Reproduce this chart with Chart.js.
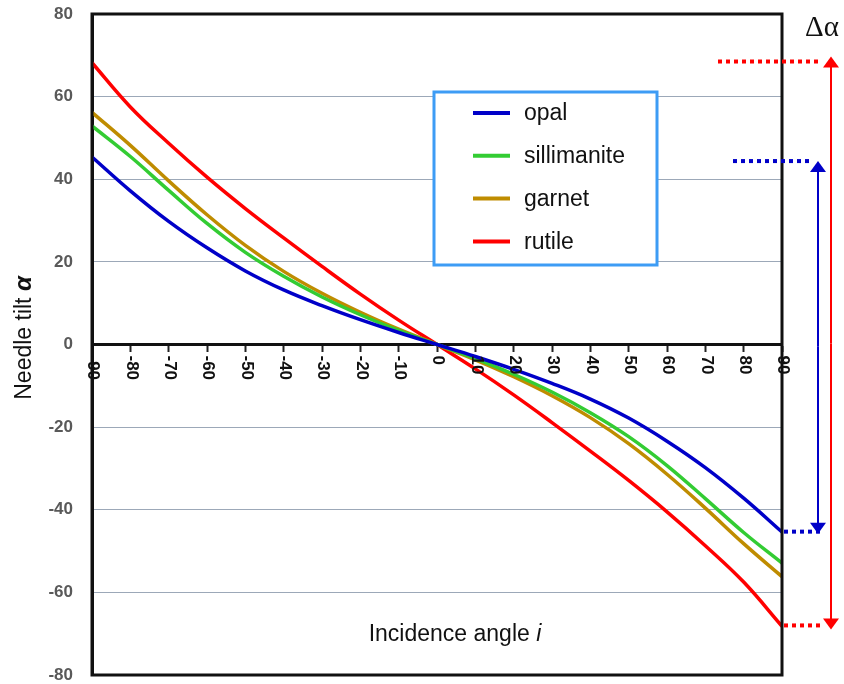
<!DOCTYPE html>
<html>
<head>
<meta charset="utf-8">
<script src="https://cdn.jsdelivr.net/npm/chart.js@4.4.1/dist/chart.umd.min.js"></script>
<style>
html, body { margin: 0; padding: 0; background: #fff; }
</style>
</head>
<body>
<canvas id="tiltChart" width="844" height="684"></canvas>
<script>
// incidence angle i (deg)
const angles = [-90, -80, -70, -60, -50, -40, -30, -20, -10, 0, 10, 20, 30, 40, 50, 60, 70, 80, 90];

// needle tilt alpha (deg)
const opal = [45.4, 37.2, 29.8, 23.4, 17.8, 13.2, 9.4, 6.0, 2.9, 0, -2.9, -6.0, -9.4, -13.2, -17.8, -23.4, -29.8, -37.2, -45.4];
const sillimanite = [52.9, 45.5, 37.3, 29.3, 22.3, 16.5, 11.5, 7.2, 3.4, 0, -3.4, -7.2, -11.5, -16.5, -22.3, -29.3, -37.3, -45.5, -52.9];
const garnet = [56.2, 48.2, 39.6, 31.4, 24.0, 17.7, 12.4, 7.8, 3.7, 0, -3.7, -7.8, -12.4, -17.7, -24.0, -31.4, -39.6, -48.2, -56.2];
const rutile = [68.2, 57.5, 48.7, 40.5, 32.9, 25.8, 18.9, 12.2, 5.9, 0, -5.9, -12.2, -18.9, -25.8, -32.9, -40.5, -48.7, -57.5, -68.2];

const seriesNames = ['opal', 'sillimanite', 'garnet', 'rutile'];
const seriesColors = ['#0000c8', '#33cc33', '#bf8c00', '#ff0000'];

const xTickLabels = [-90, -80, -70, -60, -50, -40, -30, -20, -10, 0, 10, 20, 30, 40, 50, 60, 70, 80, 90];

// delta alpha markers: [top, bottom]
const rutileSpan = [68.5, -68.0];
const opalSpan = [44.4, -45.3];

const sans = '"Liberation Sans", Arial, sans-serif';

const allSeries = [opal, sillimanite, garnet, rutile];

const datasets = allSeries.map((vals, k) => ({
    label: seriesNames[k],
    data: angles.map((a, i) => ({ x: a, y: vals[i] })),
    borderColor: seriesColors[k],
    borderWidth: 3.5,
    pointRadius: 0,
    fill: false,
    tension: 0.4
}));

const arrow = (ctx, x, yFrom, yTip, color) => {
    const dir = yTip < yFrom ? -1 : 1;
    ctx.strokeStyle = color;
    ctx.fillStyle = color;
    ctx.lineWidth = 2;
    ctx.setLineDash([]);
    ctx.beginPath();
    ctx.moveTo(x, yFrom);
    ctx.lineTo(x, yTip - dir * 8);
    ctx.stroke();
    ctx.beginPath();
    ctx.moveTo(x, yTip);
    ctx.lineTo(x - 8, yTip - dir * 11);
    ctx.lineTo(x + 8, yTip - dir * 11);
    ctx.closePath();
    ctx.fill();
};

const dotted = (ctx, x1, x2, y, color) => {
    ctx.strokeStyle = color;
    ctx.lineWidth = 4;
    ctx.setLineDash([4, 4]);
    ctx.beginPath();
    ctx.moveTo(x1, y);
    ctx.lineTo(x2, y);
    ctx.stroke();
    ctx.setLineDash([]);
};

const decorPlugin = {
    id: 'decor',
    afterDatasetsDraw(chart) {
        const { ctx, chartArea: a, scales: { x, y } } = chart;
        ctx.save();

        // frame
        ctx.strokeStyle = '#111';
        ctx.lineWidth = 3;
        ctx.strokeRect(a.left, a.top, a.right - a.left, a.bottom - a.top);

        // x tick labels, turned clockwise
        const y0 = y.getPixelForValue(0);
        ctx.fillStyle = '#111';
        ctx.font = 'bold 17px ' + sans;
        ctx.textAlign = 'left';
        ctx.textBaseline = 'middle';
        xTickLabels.forEach(v => {
            ctx.save();
            ctx.translate(x.getPixelForValue(v) + 1, y0 + 11);
            ctx.rotate(Math.PI / 2);
            ctx.fillText(String(v), 0, 0);
            ctx.restore();
        });

        // legend box
        ctx.fillStyle = '#fff';
        ctx.fillRect(434, 92, 223, 173);
        ctx.strokeStyle = '#3d9cf5';
        ctx.lineWidth = 3;
        ctx.strokeRect(434, 92, 223, 173);
        ctx.font = '23px ' + sans;
        ctx.textBaseline = 'middle';
        seriesNames.forEach((name, k) => {
            const ly = 113 + k * 42.8;
            ctx.strokeStyle = seriesColors[k];
            ctx.lineWidth = 4;
            ctx.beginPath();
            ctx.moveTo(473, ly);
            ctx.lineTo(510, ly);
            ctx.stroke();
            ctx.fillStyle = '#111';
            ctx.fillText(name, 524, ly + 1);
        });

        // axis titles
        ctx.fillStyle = '#111';
        ctx.textBaseline = 'alphabetic';
        const xt1 = 'Incidence angle ';
        ctx.font = '23px ' + sans;
        const w1 = ctx.measureText(xt1).width;
        ctx.font = 'italic 23px ' + sans;
        const w2 = ctx.measureText('i').width;
        let sx = 455 - (w1 + w2) / 2;
        ctx.font = '23px ' + sans;
        ctx.fillText(xt1, sx, 641);
        ctx.font = 'italic 23px ' + sans;
        ctx.fillText('i', sx + w1, 641);

        ctx.save();
        ctx.translate(31, 338);
        ctx.rotate(-Math.PI / 2);
        const yt1 = 'Needle tilt ';
        ctx.font = '23px ' + sans;
        const v1 = ctx.measureText(yt1).width;
        ctx.font = 'bold italic 24px ' + sans;
        const v2 = ctx.measureText('\u03b1').width;
        const vx = -(v1 + v2) / 2;
        ctx.font = '23px ' + sans;
        ctx.fillText(yt1, vx, 0);
        ctx.font = 'bold italic 24px ' + sans;
        ctx.fillText('\u03b1', vx + v1, 0);
        ctx.restore();

        // delta alpha markers
        const rTop = y.getPixelForValue(rutileSpan[0]);
        const rBot = y.getPixelForValue(rutileSpan[1]);
        const bTop = y.getPixelForValue(opalSpan[0]);
        const bBot = y.getPixelForValue(opalSpan[1]);
        dotted(ctx, 718, 818, rTop, '#ff0000');
        dotted(ctx, 784, 824, rBot, '#ff0000');
        dotted(ctx, 733, 813, bTop, '#0000c8');
        dotted(ctx, 784, 822, bBot, '#0000c8');
        const mr = (rTop + rBot) / 2;
        arrow(ctx, 831, mr, rTop - 5, '#ff0000');
        arrow(ctx, 831, mr, rBot + 4, '#ff0000');
        const mb = (bTop + bBot) / 2;
        arrow(ctx, 818, mb, bTop, '#0000c8');
        arrow(ctx, 818, mb, bBot + 2, '#0000c8');

        ctx.fillStyle = '#111';
        ctx.font = '29px "Liberation Serif", "Times New Roman", serif';
        ctx.textAlign = 'center';
        ctx.fillText('\u0394\u03b1', 822, 36);

        ctx.restore();
    }
};

new Chart(document.getElementById('tiltChart'), {
    type: 'line',
    data: { datasets: datasets },
    options: {
        responsive: false,
        animation: false,
        devicePixelRatio: 1,
        layout: { padding: { left: 0, top: 14, right: 62, bottom: 9 } },
        plugins: {
            legend: { display: false },
            tooltip: { enabled: false },
            title: { display: false }
        },
        scales: {
            x: {
                type: 'linear',
                min: -90,
                max: 90,
                position: { y: 0 },
                afterFit: (s) => { s.height = 0; s.paddingLeft = 0; s.paddingRight = 0; },
                ticks: { display: false, stepSize: 10 },
                grid: { drawOnChartArea: false, drawTicks: true, tickLength: 6, tickColor: '#222', tickWidth: 2 },
                border: { color: '#111', width: 3 }
            },
            y: {
                type: 'linear',
                position: 'left',
                min: -80,
                max: 80,
                afterFit: (s) => { s.width = 92; s.paddingTop = 0; s.paddingBottom = 0; },
                ticks: {
                    stepSize: 20,
                    color: '#595959',
                    padding: 19,
                    font: { family: sans, size: 17, weight: 'bold' }
                },
                grid: { color: '#9ca8b8', lineWidth: 1, drawTicks: false },
                border: { color: '#111', width: 3 }
            }
        }
    },
    plugins: [decorPlugin]
});
</script>
</body>
</html>
